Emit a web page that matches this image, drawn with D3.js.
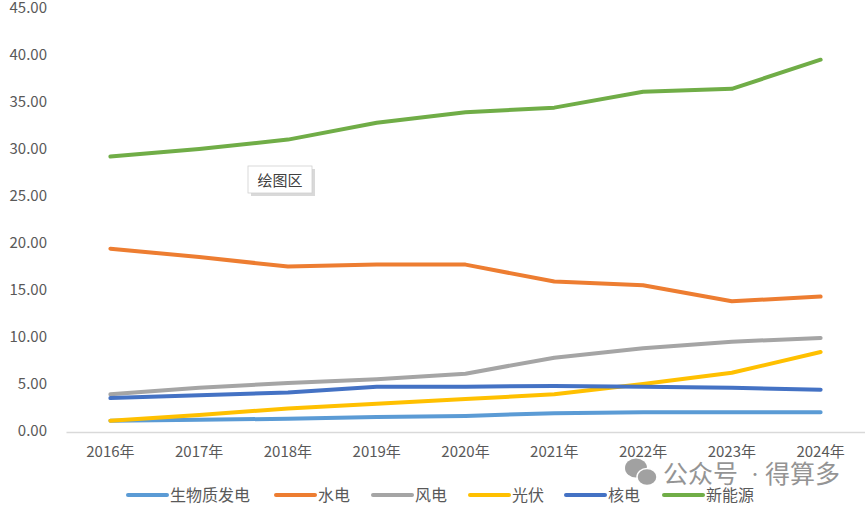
<!DOCTYPE html>
<html>
<head>
<meta charset="utf-8">
<script src="https://cdn.jsdelivr.net/npm/d3@7"></script>
<style>
    body { margin: 0; background: #fff; }
    svg text { font-family: "Noto Sans CJK SC", "Noto Sans", sans-serif; }
</style>
</head>
<body>
<div id="chart"></div>
<script>
const years = ['2016年', '2017年', '2018年', '2019年', '2020年', '2021年', '2022年', '2023年', '2024年'];
const seriesNames = ['生物质发电', '水电', '风电', '光伏', '核电', '新能源'];
const seriesColors = ['#5B9BD5', '#ED7D31', '#A5A5A5', '#FFC000', '#4472C4', '#70AD47'];

const biomass = [1.1, 1.2, 1.3, 1.5, 1.6, 1.9, 2.0, 2.0, 2.0];
const hydro = [19.4, 18.5, 17.5, 17.7, 17.7, 15.9, 15.5, 13.8, 14.3];
const wind = [3.9, 4.6, 5.1, 5.5, 6.1, 7.8, 8.8, 9.5, 9.9];
const solar = [1.1, 1.7, 2.4, 2.9, 3.4, 3.9, 5.0, 6.2, 8.4];
const nuclear = [3.5, 3.8, 4.1, 4.7, 4.7, 4.8, 4.7, 4.6, 4.4];
const newEnergy = [29.2, 30.0, 31.0, 32.8, 33.9, 34.4, 36.1, 36.4, 39.5];

const yTicks = [0, 5, 10, 15, 20, 25, 30, 35, 40, 45];

const allSeries = [biomass, hydro, wind, solar, nuclear, newEnergy];

const width = 865, height = 509;
const plot = { left: 66, right: 865, top: 8, bottom: 431 };

const svg = d3.select('#chart')
    .append('svg')
    .attr('width', width)
    .attr('height', height);

const x = d3.scaleBand()
    .domain(years)
    .range([plot.left, plot.right]);

const y = d3.scaleLinear()
    .domain([0, 45])
    .range([plot.bottom, plot.top]);

// y axis labels only
const yAxis = d3.axisLeft(y)
    .tickValues(yTicks)
    .tickFormat(d3.format('.2f'))
    .tickSize(0)
    .tickPadding(0);
svg.append('g')
    .attr('transform', 'translate(47,0)')
    .call(yAxis)
    .call(g => g.select('.domain').remove())
    .call(g => g.selectAll('text')
        .attr('fill', '#595959')
        .style('font-size', '15px')
        .style('font-family', '"Noto Sans CJK SC", sans-serif'));

// x axis
const xAxis = d3.axisBottom(x)
    .tickSize(0)
    .tickPadding(14);
svg.append('g')
    .attr('transform', `translate(0,${plot.bottom + 1})`)
    .call(xAxis)
    .call(g => g.select('.domain').attr('stroke', '#D9D9D9').attr('stroke-width', 1.3))
    .call(g => g.selectAll('text')
        .attr('fill', '#595959')
        .style('font-size', '15px')
        .style('font-family', '"Noto Sans CJK SC", sans-serif'));

// lines
const line = d3.line()
    .x((d, i) => x(years[i]) + x.bandwidth() / 2)
    .y(d => y(d));

svg.selectAll('.series')
    .data(allSeries)
    .enter()
    .append('path')
    .attr('class', 'series')
    .attr('d', d => line(d))
    .attr('fill', 'none')
    .attr('stroke', (d, i) => seriesColors[i])
    .attr('stroke-width', 4)
    .attr('stroke-linecap', 'round')
    .attr('stroke-linejoin', 'round');

// legend
const legendX = [127, 275, 372, 469, 565, 663];
const legend = svg.append('g').attr('class', 'legend');
seriesNames.forEach((name, i) => {
    const g = legend.append('g').attr('transform', `translate(${legendX[i]},495)`);
    g.append('line')
        .attr('x1', 1).attr('x2', 40)
        .attr('y1', 0).attr('y2', 0)
        .attr('stroke', seriesColors[i])
        .attr('stroke-width', 4)
        .attr('stroke-linecap', 'round');
    g.append('text')
        .attr('x', 43)
        .attr('y', 6)
        .attr('fill', '#595959')
        .style('font-size', '16px')
        .text(name);
});

// "绘图区" hover label
const tip = svg.append('g').attr('transform', 'translate(248,166)');
tip.append('rect')
    .attr('x', 3).attr('y', 3)
    .attr('width', 64).attr('height', 27)
    .attr('fill', '#bfbfbf')
    .attr('opacity', 0.6);
tip.append('rect')
    .attr('width', 64).attr('height', 27)
    .attr('fill', '#fff')
    .attr('stroke', '#d0d0d0')
    .attr('stroke-width', 0.8);
tip.append('text')
    .attr('x', 32).attr('y', 19.5)
    .attr('text-anchor', 'middle')
    .attr('fill', '#404040')
    .style('font-size', '15px')
    .text('绘图区');

// watermark
const wm = svg.append('g').attr('transform', 'translate(625,470)').attr('opacity', 0.8);
wm.append('ellipse').attr('cx', 11).attr('cy', -2).attr('rx', 11).attr('ry', 9.5).attr('fill', '#8a8a8a');
wm.append('ellipse').attr('cx', 22).attr('cy', 7).attr('rx', 10).attr('ry', 8.5).attr('fill', '#8a8a8a')
    .attr('stroke', '#fff').attr('stroke-width', 1.5);
wm.append('text')
    .attr('x', 38).attr('y', 13)
    .attr('fill', '#7a7a7a')
    .style('font-size', '25px')
    .text('公众号');
wm.append('text')
    .attr('x', 123).attr('y', 9)
    .attr('fill', '#7a7a7a')
    .style('font-size', '14px')
    .text('·');
wm.append('text')
    .attr('x', 140).attr('y', 13)
    .attr('fill', '#7a7a7a')
    .style('font-size', '25px')
    .text('得算多');
</script>
</body>
</html>
